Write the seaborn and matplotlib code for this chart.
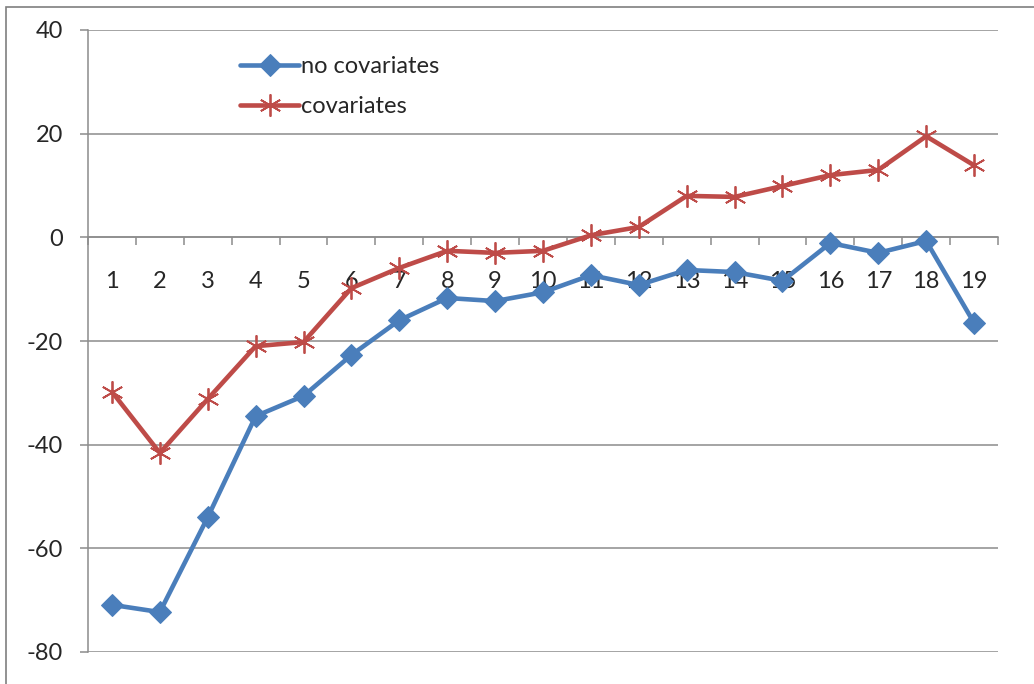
import matplotlib
matplotlib.use("Agg")
import matplotlib.pyplot as plt
from matplotlib.patches import Rectangle
import seaborn as sns
import pandas as pd
import numpy as np

categories = list(range(1, 20))
no_covariates = [-70.9, -72.3, -54.0, -34.5, -30.6, -22.7, -16.0, -11.7, -12.3, -10.6,
                 -7.3, -9.2, -6.3, -6.7, -8.4, -1.1, -3.0, -0.7, -16.5]
covariates = [-29.8, -41.6, -31.2, -21.0, -20.2, -9.8, -5.9, -2.6, -3.0, -2.6,
              0.4, 2.0, 8.0, 7.8, 9.9, 12.0, 13.0, 19.5, 13.9]
series_names = ["no covariates", "covariates"]
y_ticks = [40, 20, 0, -20, -40, -60, -80]

df_no = pd.DataFrame({"x": categories, "value": no_covariates})
df_cov = pd.DataFrame({"x": categories, "value": covariates})

sns.set_style("white")
plt.rcParams["font.family"] = ["Lato", "DejaVu Sans"]
plt.rcParams["axes.unicode_minus"] = False

W, H = 1034, 684
fig = plt.figure(figsize=(W / 100, H / 100), dpi=100)
ax = fig.add_axes([88 / W, 1 - 652 / H, (998 - 88) / W, (652 - 30) / H])

blue, red = "#4A7EBB", "#BE4B48"
sns.lineplot(data=df_no, x="x", y="value", color=blue, linewidth=3.3,
             marker="D", markersize=11, markeredgecolor=blue, markerfacecolor=blue,
             label=series_names[0], ax=ax, zorder=4)
sns.lineplot(data=df_cov, x="x", y="value", color=red, linewidth=3.3,
             marker=(6, 2, 0), markersize=16, markeredgewidth=1.3,
             markeredgecolor=red, label=series_names[1], ax=ax, zorder=3)

ax.set_xlim(0.5, 19.5)
ax.set_ylim(-80, 40)
ax.set_xlabel("")
ax.set_ylabel("")

# y axis
ax.set_yticks(y_ticks)
ax.yaxis.grid(True, color="#8C8C8C", linewidth=1.1)
ax.set_axisbelow(True)
ax.tick_params(axis="y", which="major", direction="out", length=6, width=1.1,
               color="#8C8C8C", labelsize=17, pad=12, left=True)

# x axis at zero
ax.spines["bottom"].set_position(("data", 0))
ax.spines["bottom"].set_color("#8C8C8C")
ax.spines["bottom"].set_linewidth(1.1)
ax.spines["left"].set_color("#8C8C8C")
ax.spines["left"].set_linewidth(1.1)
ax.spines["top"].set_visible(False)
ax.spines["right"].set_visible(False)
ax.set_xticks(np.arange(0.5, 20.0, 1.0))
ax.set_xticklabels([])
ax.set_xticks(categories, minor=True)
ax.set_xticklabels([str(c) for c in categories], minor=True)
ax.tick_params(axis="x", which="major", direction="out", length=6, width=1.1,
               color="#8C8C8C", bottom=True)
ax.tick_params(axis="x", which="minor", length=0, labelsize=17, pad=24, bottom=True)

leg = ax.legend(loc="upper left", bbox_to_anchor=(240 / W, 1 - 56 / H),
                bbox_transform=fig.transFigure, frameon=False, fontsize=17,
                handlelength=2.5, handletextpad=0.1, labelspacing=0.8,
                borderaxespad=0, borderpad=0)

fig.patches.append(Rectangle((5.5 / W, -0.05), 1.2, 1.05 - 6.5 / H,
                             transform=fig.transFigure, fill=False,
                             edgecolor="#7F7F7F", linewidth=1.2, zorder=0))

fig.savefig("out.png", dpi=100)
